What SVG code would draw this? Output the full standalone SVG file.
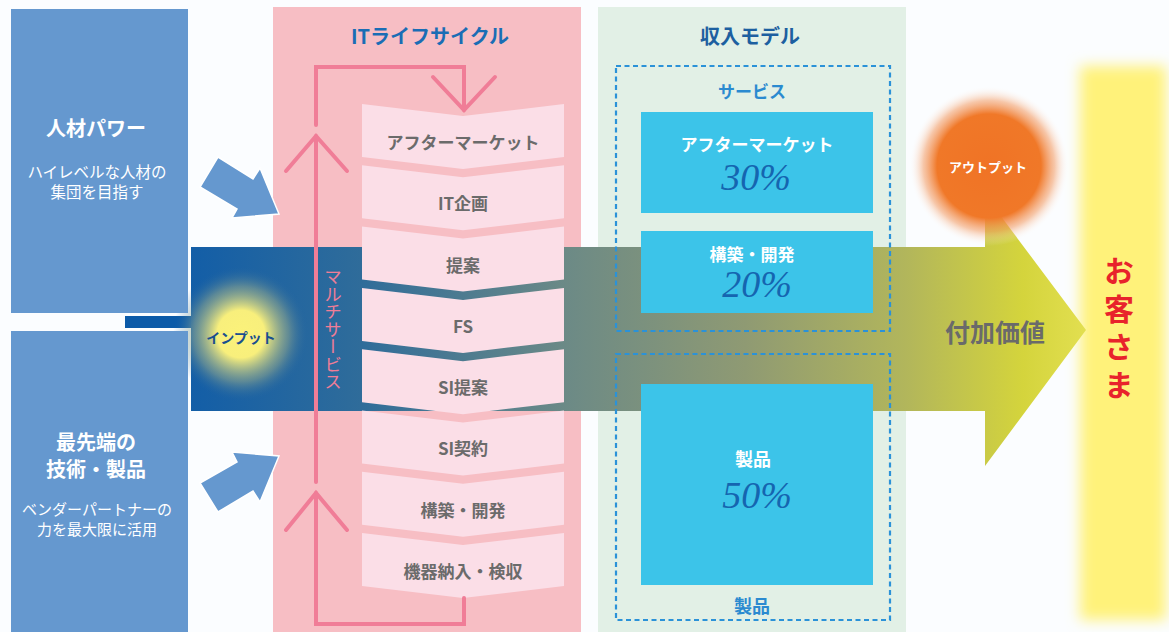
<svg xmlns="http://www.w3.org/2000/svg" width="1169" height="632" viewBox="0 0 1169 632">
<defs>
<style>
.jp{font-family:"Noto Sans CJK JP","Noto Sans",sans-serif;font-weight:bold;text-anchor:middle;dominant-baseline:central}
.wt{fill:#ffffff}
.chev{fill:#fbdee7}
.ct{fill:#6b6b6b;font-size:17px}
.cyan{fill:#3cc4e9}
.pct{font-family:"Liberation Serif",serif;font-style:italic;font-size:38px;fill:#1565b0;text-anchor:middle}
.dash{fill:none;stroke:#2b92d8;stroke-width:2.2;stroke-dasharray:5 3.5}
.loop{fill:none;stroke:#f07d97;stroke-width:4;stroke-linecap:round;stroke-linejoin:miter}
.barrow{fill:#6598cf;stroke:#ffffff;stroke-width:1.5}
</style>
<linearGradient id="band" gradientUnits="userSpaceOnUse" x1="191" y1="0" x2="1085" y2="0">
<stop offset="0" stop-color="#135ea7"/>
<stop offset="0.19" stop-color="#2f6c9a"/>
<stop offset="0.42" stop-color="#6c8a86"/>
<stop offset="0.62" stop-color="#8f9a73"/>
<stop offset="0.8" stop-color="#b2b65b"/>
<stop offset="0.93" stop-color="#d4d43c"/>
<stop offset="1" stop-color="#e2df50"/>
</linearGradient>
<radialGradient id="glowY" cx="0.5" cy="0.5" r="0.5">
<stop offset="0" stop-color="#fbf27a"/>
<stop offset="0.35" stop-color="#f8ef7c"/>
<stop offset="0.7" stop-color="#9fb08a" stop-opacity="0.5"/>
<stop offset="1" stop-color="#1a5fa3" stop-opacity="0"/>
</radialGradient>
<radialGradient id="glowO" cx="0.5" cy="0.5" r="0.5">
<stop offset="0" stop-color="#f07325"/>
<stop offset="0.65" stop-color="#f07828"/>
<stop offset="0.82" stop-color="#f39a62" stop-opacity="0.55"/>
<stop offset="1" stop-color="#ffffff" stop-opacity="0"/>
</radialGradient>
<filter id="blur" x="-0.3" y="-0.1" width="1.6" height="1.2">
<feGaussianBlur stdDeviation="7"/>
</filter>
</defs>

<rect x="0" y="0" width="1169" height="632" fill="#fbfdff"/>

<!-- panels -->
<g id="panel-lifecycle">
<rect x="273" y="7" width="308" height="625" fill="#f7bec4"/>
</g>
<g id="panel-revenue">
<rect x="598" y="7" width="308" height="625" fill="#e2f0e6"/>
</g>

<!-- yellow customer column -->
<g id="customer">
<rect x="1080" y="66" width="86" height="554" fill="#fff27a" filter="url(#blur)"/>
<text x="1119" y="256" font-family="'Noto Sans CJK JP',sans-serif" font-weight="bold" font-size="30" fill="#e8232b" letter-spacing="8" writing-mode="vertical-rl" style="writing-mode:vertical-rl">お客さま</text>
</g>

<!-- main band -->
<g id="value-band">
<rect x="125" y="316" width="70" height="12" fill="#0b5aa8"/>
<path d="M191,247 L985,247 L985,195 L1086,330 L985,466 L985,411 L191,411 Z" fill="url(#band)"/>
<circle cx="241" cy="334" r="68" fill="url(#glowY)"/>
<text class="jp" x="241" y="337" font-size="14" fill="#1a4f8f">インプット</text>
<text class="jp" x="995" y="331" font-size="25" fill="#6a6a6a">付加価値</text>
</g>

<g id="output">
<ellipse cx="989" cy="166" rx="80" ry="80" fill="url(#glowO)"/>
<text class="jp wt" x="988" y="166" font-size="13">アウトプット</text>
</g>

<!-- left boxes -->
<g id="node-jinzai">
<rect x="11" y="9" width="177" height="304" fill="#6598cf"/>
<text class="jp wt" x="96" y="127" font-size="20">人材パワー</text>
<text class="jp wt" x="97" y="171" font-size="15.5" style="font-weight:normal"><tspan x="97" y="171">ハイレベルな人材の</tspan><tspan x="97" y="191">集団を目指す</tspan></text>
</g>
<g id="node-gijutsu">
<rect x="11" y="331" width="177" height="301" fill="#6598cf"/>
<text class="jp wt" x="96" y="441" font-size="20"><tspan x="96" y="441">最先端の</tspan><tspan x="96" y="468">技術・製品</tspan></text>
<text class="jp wt" x="97" y="508" font-size="15" style="font-weight:normal"><tspan x="97" y="508">ベンダーパートナーの</tspan><tspan x="97" y="528">力を最大限に活用</tspan></text>
</g>

<!-- IT lifecycle -->
<g id="lifecycle-title">
<text class="jp" x="430" y="35" font-size="20" fill="#1a6db5">ITライフサイクル</text>
</g>
<g id="multiservice">
<text x="333" y="268" font-family="'Noto Sans CJK JP',sans-serif" font-size="17.5" fill="#f07d97" writing-mode="vertical-rl" style="writing-mode:vertical-rl">マルチサービス</text>
</g>
<g id="step-1"><path class="chev" d="M362,104 L463,116 L564,104 L564,157 L463,169 L362,157 Z"/><text class="jp ct" x="463" y="141">アフターマーケット</text></g>
<g id="step-2"><path class="chev" d="M362,165.3 L463,177.3 L564,165.3 L564,218.3 L463,230.3 L362,218.3 Z"/><text class="jp ct" x="463" y="202">IT企画</text></g>
<g id="step-3"><path class="chev" d="M362,226.6 L463,238.6 L564,226.6 L564,279.6 L463,291.6 L362,279.6 Z"/><text class="jp ct" x="463" y="264">提案</text></g>
<g id="step-4"><path class="chev" d="M362,287.9 L463,299.9 L564,287.9 L564,340.9 L463,352.9 L362,340.9 Z"/><text class="jp ct" x="463" y="325">FS</text></g>
<g id="step-5"><path class="chev" d="M362,349.2 L463,361.2 L564,349.2 L564,402.2 L463,414.2 L362,402.2 Z"/><text class="jp ct" x="463" y="386">SI提案</text></g>
<g id="step-6"><path class="chev" d="M362,410.5 L463,422.5 L564,410.5 L564,463.5 L463,475.5 L362,463.5 Z"/><text class="jp ct" x="463" y="447">SI契約</text></g>
<g id="step-7"><path class="chev" d="M362,471.8 L463,483.8 L564,471.8 L564,524.8 L463,536.8 L362,524.8 Z"/><text class="jp ct" x="463" y="509">構築・開発</text></g>
<g id="step-8"><path class="chev" d="M362,533.1 L463,545.1 L564,533.1 L564,586.1 L463,598.1 L362,586.1 Z"/><text class="jp ct" x="463" y="570">機器納入・検収</text></g>

<!-- revenue model -->
<g id="revenue-title">
<text class="jp" x="750" y="35" font-size="20" fill="#1d5fa0">収入モデル</text>
</g>
<g id="group-service">
<rect class="dash" x="616" y="66" width="274" height="265"/>
<text class="jp" x="752" y="90" font-size="17" fill="#2b8ad0">サービス</text>
</g>
<g id="group-product">
<rect class="dash" x="616" y="354" width="274" height="266"/>
<text class="jp" x="752" y="605" font-size="18" fill="#2b8ad0">製品</text>
</g>
<g id="rev-aftermarket">
<rect class="cyan" x="641" y="112" width="232" height="101"/>
<text class="jp wt" x="757" y="143" font-size="17">アフターマーケット</text>
<text class="pct" x="756" y="190">30%</text>
</g>
<g id="rev-build">
<rect class="cyan" x="641" y="231" width="232" height="82"/>
<text class="jp wt" x="752" y="253" font-size="17">構築・開発</text>
<text class="pct" x="757" y="297">20%</text>
</g>
<g id="rev-product">
<rect class="cyan" x="641" y="384" width="232" height="201"/>
<text class="jp wt" x="753" y="458" font-size="18">製品</text>
<text class="pct" x="757" y="508">50%</text>
</g>

<!-- connectors -->
<g id="connectors">
<polygon class="barrow" points="218,157 253,179 260,168 279,214 232,218 237,209 200,187"/>
<polygon class="barrow" points="200,483 237,462 232,452 279,456 260,502 253,491 218,512"/>
<path class="loop" d="M316,125 L316,67 L464,67 L464,110"/>
<path class="loop" d="M433,77 L464,110 L495,77"/>
<path class="loop" d="M316,482 L316,136"/>
<path class="loop" d="M286,171 L316,136 L347,171"/>
<path class="loop" d="M464,598 L464,624 L316,624 L316,493"/>
<path class="loop" d="M286,530 L316,493 L347,530"/>
</g>
</svg>
